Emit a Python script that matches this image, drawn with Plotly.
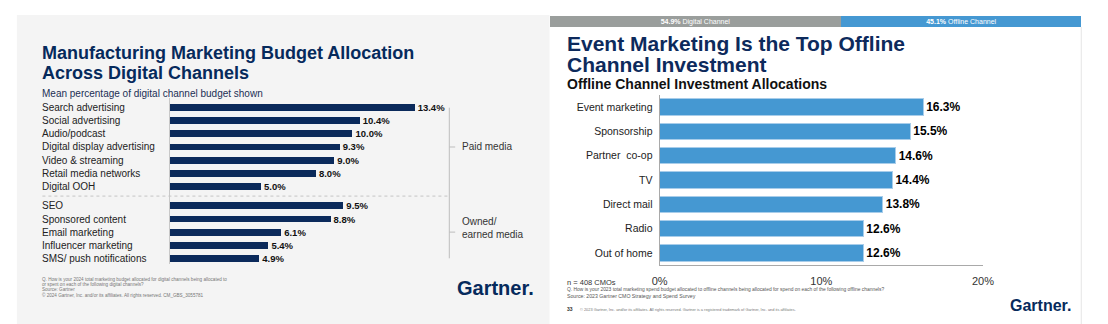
import plotly.graph_objects as go

# ---------------- data ----------------
paid_channels = ["Search advertising", "Social advertising", "Audio/podcast",
                 "Digital display advertising", "Video & streaming",
                 "Retail media networks", "Digital OOH"]
paid_values = [13.4, 10.4, 10.0, 9.3, 9.0, 8.0, 5.0]

owned_channels = ["SEO", "Sponsored content", "Email marketing",
                  "Influencer marketing", "SMS/ push notifications"]
owned_values = [9.5, 8.8, 6.1, 5.4, 4.9]

group_labels = ["Paid media", "Owned/<br>earned media"]

offline_channels = ["Event marketing", "Sponsorship", "Partner  co-op", "TV",
                    "Direct mail", "Radio", "Out of home"]
offline_values = [16.3, 15.5, 14.6, 14.4, 13.8, 12.6, 12.6]

split_labels = ["Digital Channel", "Offline Channel"]
split_values = [54.9, 45.1]

x_ticks_right = [0, 10, 20]
x_tick_labels_right = ["0%", "10%", "20%"]

# ---------------- helpers ----------------
W, H = 1108, 324
FONT = "Liberation Sans"
NAVY = "#062a5c"


def px(x):
    return x / W


def py(y):
    return 1 - y / H


paid_pos = list(range(len(paid_channels)))
owned_pos = [len(paid_channels) + 0.5 + i for i in range(len(owned_channels))]
left_pos = paid_pos + owned_pos
left_values = paid_values + owned_values
left_labels = paid_channels + owned_channels

fig = go.Figure()

# left chart bars
fig.add_trace(go.Bar(
    y=left_pos, x=left_values, orientation="h", width=0.53,
    marker=dict(color="#0b2a5b", line=dict(width=0)),
    text=[f"{v:.1f}%" for v in left_values], textposition="outside",
    constraintext="none",
    textfont=dict(family=FONT, size=9.5, color="#111111", weight="bold"),
    cliponaxis=False, xaxis="x", yaxis="y", showlegend=False, hoverinfo="skip",
))

# right chart bars
fig.add_trace(go.Bar(
    y=offline_channels, x=offline_values, orientation="h", width=0.68,
    marker=dict(color="#4598d2", line=dict(width=1, color="#a8cdea")),
    text=[f"{v:.1f}%" for v in offline_values], textposition="outside",
    constraintext="none",
    textfont=dict(family=FONT, size=12, color="#000000", weight="bold"),
    cliponaxis=False, xaxis="x2", yaxis="y2", showlegend=False, hoverinfo="skip",
))

# top split bar
split_colors = ["#9a9e9c", "#4598d2"]
for lab, val, col in zip(split_labels, split_values, split_colors):
    fig.add_trace(go.Bar(
        y=[0], x=[val], orientation="h", width=1,
        marker=dict(color=col, line=dict(width=0)),
        text=[f"<b>{val:.1f}%</b> {lab}"], textposition="inside",
        insidetextanchor="middle", constraintext="none",
        textfont=dict(family=FONT, size=7, color="#ffffff"),
        xaxis="x3", yaxis="y3", showlegend=False, hoverinfo="skip",
    ))

left_x0, left_x1, left_scale = 164.5, 440, 18.6
y_top_px, y_bot_px, row_px = 98, 264, 13.1
first_c, last_c = 107.7, 258.3

fig.update_layout(
    width=W, height=H, margin=dict(l=0, r=0, t=0, b=0), autosize=False,
    paper_bgcolor="#ffffff", plot_bgcolor="rgba(0,0,0,0)",
    barmode="stack", showlegend=False,
    font=dict(family=FONT),
    xaxis=dict(domain=[px(left_x0), px(left_x1)],
               range=[0, (left_x1 - left_x0) / left_scale],
               visible=False, anchor="y"),
    yaxis=dict(domain=[py(y_bot_px), py(y_top_px)],
               range=[owned_pos[-1] + (y_bot_px - last_c) / row_px,
                      -(first_c - y_top_px) / row_px],
               showline=True, linecolor="#c8c8c8", linewidth=1,
               showticklabels=False, showgrid=False, zeroline=False,
               ticks="", anchor="x"),
    xaxis2=dict(domain=[px(663), px(992)], range=[0, 20], anchor="y2",
                tickmode="array", tickvals=x_ticks_right,
                ticktext=x_tick_labels_right,
                showline=True, linecolor="#a9a9a9", linewidth=1,
                showgrid=False, zeroline=False, ticks="",
                ticklabelstandoff=6,
                tickfont=dict(family=FONT, size=11, color="#333333")),
    yaxis2=dict(domain=[py(265), py(95)], type="category",
                categoryarray=offline_channels, autorange="reversed",
                anchor="x2", showline=True, linecolor="#a9a9a9", linewidth=1,
                showgrid=False, zeroline=False, ticks="",
                ticklabelstandoff=4,
                tickfont=dict(family=FONT, size=10.5, color="#222222")),
    xaxis3=dict(domain=[px(551), px(1092)], range=[0, 100], visible=False,
                anchor="y3"),
    yaxis3=dict(domain=[py(27), py(16)], range=[-0.5, 0.5], visible=False,
                anchor="x3"),
)

shapes = [
    # left gray panel
    dict(type="rect", xref="paper", yref="paper", x0=px(9), x1=px(551),
         y0=0, y1=py(15), fillcolor="#f4f4f4", line=dict(width=0),
         layer="below"),
    # right slide border
    dict(type="line", xref="paper", yref="paper", x0=px(1092), x1=px(1092),
         y0=0, y1=py(27), line=dict(color="#e6e6e6", width=1)),
    # dotted separator
    dict(type="line", xref="paper", yref="y", x0=px(35), x1=px(448),
         y0=len(paid_channels) - 0.25, y1=len(paid_channels) - 0.25,
         line=dict(color="#c4c4c4", width=1, dash="dot")),
    # bracket
    dict(type="line", xref="paper", yref="y", x0=px(449), x1=px(449),
         y0=paid_pos[0], y1=owned_pos[-1],
         line=dict(color="#bdbdbd", width=1)),
]
paid_mid = sum(paid_pos) / len(paid_pos)
owned_mid = sum(owned_pos) / len(owned_pos)
for m in (paid_mid, owned_mid):
    shapes.append(dict(type="line", xref="paper", yref="y", x0=px(449),
                       x1=px(455), y0=m, y1=m,
                       line=dict(color="#bdbdbd", width=1)))
fig.update_layout(shapes=shapes)

ann = []


def add_text(text, x, y, size, color="#222222", bold=False, xanchor="left",
             yref="paper", family=FONT):
    ann.append(dict(
        text=f"<b>{text}</b>" if bold else text,
        x=px(x), y=py(y) if yref == "paper" else y, xref="paper", yref=yref,
        xanchor=xanchor, yanchor="middle", showarrow=False,
        font=dict(family=family, size=size, color=color), align="left",
    ))


# left category labels
for lab, pos in zip(left_labels, left_pos):
    add_text(lab, 33, pos, 10, color="#222222", yref="y")
# group labels
add_text(group_labels[0], 460, paid_mid, 10, color="#333333", yref="y")
add_text(group_labels[1], 460, owned_mid - 0.3, 10, color="#333333", yref="y")

# left titles
add_text("Manufacturing Marketing Budget Allocation", 33, 53, 18, NAVY, True)
add_text("Across Digital Channels", 33, 73, 18, NAVY, True)
add_text("Mean percentage of digital channel budget shown", 33, 94, 10,
         "#1b2f55")

# left footnotes
fn_col = "#777777"
add_text("Q. How is your 2024 total marketing budget allocated for digital channels being allocated to",
         33, 279, 4.6, fn_col)
add_text("or spent on each of the following digital channels?", 33, 284.5, 4.6, fn_col)
add_text("Source: Gartner", 33, 289.7, 4.6, fn_col)
add_text("© 2024 Gartner, Inc. and/or its affiliates. All rights reserved. CM_GBS_3055781",
         33, 295, 4.6, fn_col)
add_text("Gartner.", 496.5, 288, 20, NAVY, True, xanchor="center")

# right titles
add_text("Event Marketing Is the Top Offline", 567, 43, 21, "#0d2a5c", True)
add_text("Channel Investment", 567, 64, 21, "#0d2a5c", True)
add_text("Offline Channel Investment Allocations", 567, 84, 14, "#111111", True)

# right footnotes
add_text("n = 408 CMOs", 567, 282.5, 7.5, "#333333")
add_text("Q. How is your 2023 total marketing spend budget allocated to offline channels being allocated for spend on each of the following offline channels?",
         567, 289.6, 4.9, "#555555")
add_text("Source: 2023 Gartner CMO Strategy and Spend Survey", 567, 295.7, 5.2, "#555555")
add_text("<b>33</b>", 567, 309, 5, "#333333")
add_text("© 2023 Gartner, Inc. and/or its affiliates. All rights reserved. Gartner is a registered trademark of Gartner, Inc. and its affiliates.",
         580, 309, 3.9, "#777777")
add_text("Gartner.", 1050.5, 305, 16, NAVY, True, xanchor="center")

fig.update_layout(annotations=ann)

fig.write_html("out.html")
